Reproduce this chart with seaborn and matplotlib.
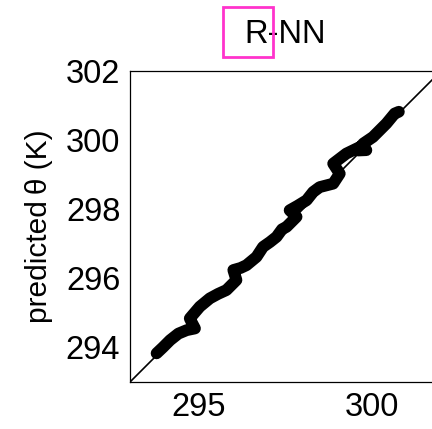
import matplotlib
matplotlib.use("Agg")
import matplotlib.pyplot as plt
from matplotlib.patches import Rectangle
import seaborn as sns
import pandas as pd

# observed vs predicted potential temperature (K), traced along the time series
observed = [293.77, 293.95, 294.16, 294.40, 294.64, 294.88, 294.80, 294.73, 295.02,
            295.31, 295.55, 295.79, 296.08, 295.99, 296.20, 296.37, 296.66, 296.85,
            297.05, 297.24, 297.40, 297.53, 297.82, 297.62, 297.85, 298.11, 298.30,
            298.49, 298.88, 299.07, 298.88, 299.26, 299.65, 299.84, 299.60, 299.75,
            300.03, 300.42, 300.66, 300.78]
predicted = [293.83, 294.00, 294.21, 294.40, 294.50, 294.55, 294.70, 294.84, 295.18,
             295.42, 295.55, 295.66, 295.95, 296.24, 296.30, 296.38, 296.62, 296.91,
             297.05, 297.20, 297.42, 297.49, 297.78, 297.97, 298.10, 298.26, 298.50,
             298.64, 298.74, 299.03, 299.32, 299.61, 299.80, 299.71, 299.70, 299.90,
             300.09, 300.48, 300.77, 300.82]
limits = [293, 302]
yticks = [294, 296, 298, 300, 302]
xticks = [295, 300]
title = "R-NN"

sns.set_style("white")
plt.rcParams["font.family"] = ["Liberation Sans", "DejaVu Sans"]
plt.rcParams["text.color"] = "black"
plt.rcParams["axes.labelcolor"] = "black"

fig = plt.figure(figsize=(4.32, 4.29), dpi=100)
W, H = 432, 429
ax = fig.add_axes([130 / W, (H - 382) / H, 311 / W, 311 / H])

df = pd.DataFrame({"observed": observed, "predicted": predicted})
sns.lineplot(data=df, x="observed", y="predicted", sort=False, estimator=None,
             color="black", linewidth=8.5, solid_capstyle="round",
             solid_joinstyle="round", ax=ax)
sns.lineplot(x=limits, y=limits, color="black", linewidth=1.2, ax=ax)

ax.set_xlim(limits)
ax.set_ylim(limits)
ax.set_xticks(xticks)
ax.set_yticks(yticks)
ax.tick_params(direction="in", length=3, width=0.8, labelsize=23.5, pad=7, colors="black")
ax.set_xlabel("")
ax.set_ylabel("predicted\u2009θ (K)", fontsize=21.5, labelpad=9)
for s in ax.spines.values():
    s.set_color("black")
    s.set_linewidth(0.9)
ax.set_title(title, fontsize=23.5, pad=20, color="black")

# highlight box around the first letter of the title
fig.patches.append(Rectangle((223 / W, (H - 57) / H), 50 / W, 50 / H,
                             transform=fig.transFigure, fill=False,
                             edgecolor="#ff33cc", linewidth=2))

fig.savefig("out.png", dpi=100)
